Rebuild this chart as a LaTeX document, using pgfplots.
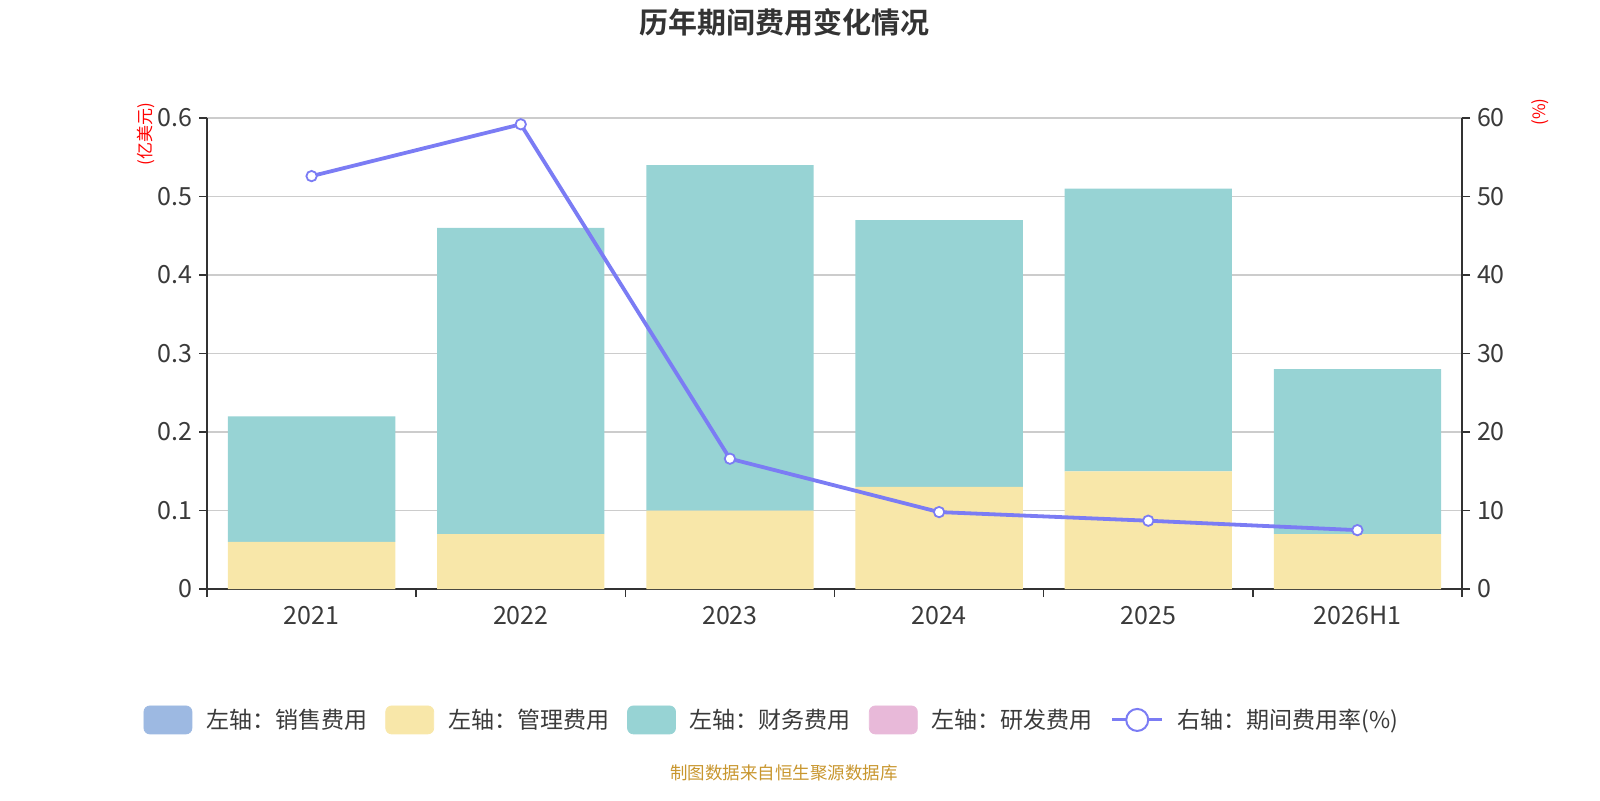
\documentclass[border=0pt]{standalone}
\usepackage{pgfplots}
\pgfplotsset{compat=1.18}
\usepackage{fontspec}
\setmainfont{Noto Sans CJK SC}[BoldFont={Noto Sans CJK SC Bold}]
\definecolor{cSales}{HTML}{9DB9E2}
\definecolor{cAdmin}{HTML}{F8E7A9}
\definecolor{cFin}{HTML}{97D3D4}
\definecolor{cRD}{HTML}{E8B9D9}
\definecolor{cLine}{HTML}{7B7CF4}
\definecolor{cAxis}{HTML}{333333}
\definecolor{cText}{HTML}{3A3A3A}
\definecolor{cGrid}{HTML}{CCCCCC}
\definecolor{cSrc}{HTML}{C8962E}
\begin{document}
\begin{tikzpicture}[x=1pt,y=1pt]
\path[use as bounding box] (0,0) rectangle (800,400);
\node[font=\bfseries\fontsize{14.5}{16}\selectfont, text=cAxis] at (392,389) {历年期间费用变化情况};
\node[font=\fontsize{8.75}{10}\selectfont, text=cSrc] at (392,13.5) {制图数据来自恒生聚源数据库};
\node[font=\fontsize{8.5}{10}\selectfont, text=red, rotate=90] at (73,333) {(亿美元)};
\node[font=\fontsize{8.5}{10}\selectfont, text=red, rotate=90] at (770,344) {(\%)};
\pgfplotsset{common/.style={
  at={(103.5pt,105.5pt)}, anchor=south west,
  width=627.5pt, height=235.5pt, scale only axis,
  xmin=-0.5, xmax=5.5,
  axis line style={-, cAxis, line width=0.8pt},
  tick align=outside, major tick length=4pt,
  tick style={cAxis, line width=0.8pt},
  tick label style={font=\fontsize{12.5}{14}\selectfont, text=cText},
  /pgf/number format/assume math mode=true,
}}
\begin{axis}[common,
  ymin=0, ymax=0.6, ytick={0,0.1,0.2,0.3,0.4,0.5,0.6},
  yticklabel style={/pgf/number format/fixed, /pgf/number format/precision=1},
  ybar stacked, bar width=0.8,
  axis y line*=left, axis x line*=bottom,
  ymajorgrids, grid style={cGrid, line width=0.6pt},
  xtick={0,...,5}, xticklabels={2021,2022,2023,2024,2025,2026H1},
  major x tick style={draw=none},
  minor xtick={-0.5,0.5,1.5,2.5,3.5,4.5,5.5},
  minor tick length=4pt,
  minor x tick style={cAxis, line width=0.8pt},
  xticklabel style={yshift=-1pt},
]
\addplot[fill=cAdmin, draw=none] coordinates {(0,0.06)(1,0.07)(2,0.10)(3,0.13)(4,0.15)(5,0.07)};
\addplot[fill=cFin, draw=none] coordinates {(0,0.16)(1,0.39)(2,0.44)(3,0.34)(4,0.36)(5,0.21)};
\end{axis}
\begin{axis}[common,
  ymin=0, ymax=60, ytick={0,10,...,60},
  axis y line*=right, axis x line=none,
  legend style={at={(0.451,-0.278)}, anchor=center, draw=none, fill=none,
    legend columns=-1, font=\fontsize{11.5}{13}\selectfont, text=cText,
    /tikz/every odd column/.append style={column sep=5pt},
    /tikz/every even column/.append style={column sep=7pt}},
  legend cell align=left,
]
\addlegendimage{legend image code/.code={\fill[cSales, rounded corners=3pt] (0pt,-7pt) rectangle (24pt,7pt);}}
\addlegendentry{左轴：销售费用}
\addlegendimage{legend image code/.code={\fill[cAdmin, rounded corners=3pt] (0pt,-7pt) rectangle (24pt,7pt);}}
\addlegendentry{左轴：管理费用}
\addlegendimage{legend image code/.code={\fill[cFin, rounded corners=3pt] (0pt,-7pt) rectangle (24pt,7pt);}}
\addlegendentry{左轴：财务费用}
\addlegendimage{legend image code/.code={\fill[cRD, rounded corners=3pt] (0pt,-7pt) rectangle (24pt,7pt);}}
\addlegendentry{左轴：研发费用}
\addplot[cLine, line width=1.9pt, mark=*, mark size=2.6pt,
  mark options={fill=white, draw=cLine, line width=0.9pt},
  legend image code/.code={\draw[cLine, line width=1.5pt] (0pt,0pt)--(25pt,0pt);
    \draw[cLine, fill=white, line width=1pt] (12.5pt,0pt) circle (5.5pt);}]
  coordinates {(0,52.6)(1,59.2)(2,16.6)(3,9.8)(4,8.7)(5,7.5)};
\addlegendentry{右轴：期间费用率(\%)}
\end{axis}
\end{tikzpicture}
\end{document}
